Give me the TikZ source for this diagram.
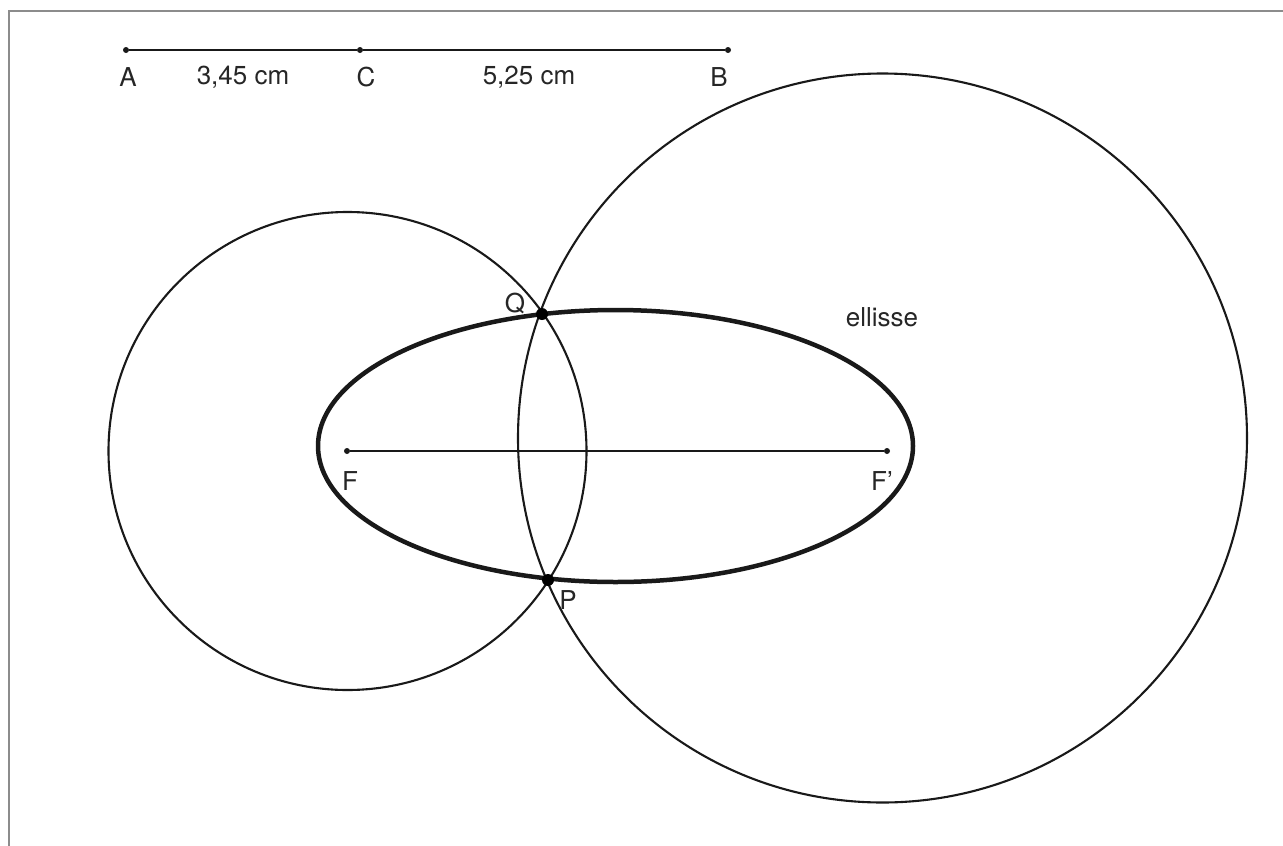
\documentclass[tikz,border=0pt]{standalone}
\usepackage{fontspec}
\setmainfont{TeX Gyre Heros}
\begin{document}
\begin{tikzpicture}[x=1pt,y=-1pt,
  thin line/.style={line width=2.1pt, black!90},
  thick line/.style={line width=4.5pt, black!90},
  frame/.style={line width=2pt, black!45},
  lbl/.style={font=\fontsize{26}{30}\selectfont, inner sep=0pt, text=black!85},
  smalldot/.style={circle, fill=black!90, inner sep=0pt, minimum size=6pt},
  bigdot/.style={circle, fill=black, inner sep=0pt, minimum size=12pt}]
\useasboundingbox (0,0) rectangle (1283,846);
% frame (top and left only)
\draw[frame] (1283,10.5) -- (9,10.5) -- (9,846);
% segment A-C-B
\node[smalldot] (A) at (126,50) {};
\node[smalldot] (C) at (360,50) {};
\node[smalldot] (B) at (728,50) {};
\draw[thin line] (A) -- (C) -- (B);
\node[lbl] (lA) at (128,77) {A};
\node[lbl] (lAC) at (243,77) {3,45 cm};
\node[lbl] (lC) at (366,77) {C};
\node[lbl] (lCB) at (529,77) {5,25 cm};
\node[lbl] (lB) at (719,77) {B};
% circles
\draw[thin line] (347.5,451) circle [radius=239];
\draw[thin line] (882.5,438) circle [radius=364.5];
% ellipse
\draw[thick line] (615.5,446) ellipse [x radius=297.5, y radius=136];
% foci segment
\node[smalldot] (F) at (347,451) {};
\node[smalldot] (F2) at (887,451) {};
\draw[thin line] (F) -- (F2);
\node[lbl] (lF) at (350,481) {F};
\node[lbl] (lF2) at (882,481) {F'};
% intersection points
\node[bigdot] (Q) at (542,314) {};
\node[bigdot] (P) at (548,580) {};
\node[lbl] (lQ) at (515,303) {Q};
\node[lbl] (lP) at (568,600) {P};
\node[lbl] (lE) at (882,317) {ellisse};
\end{tikzpicture}
\end{document}
